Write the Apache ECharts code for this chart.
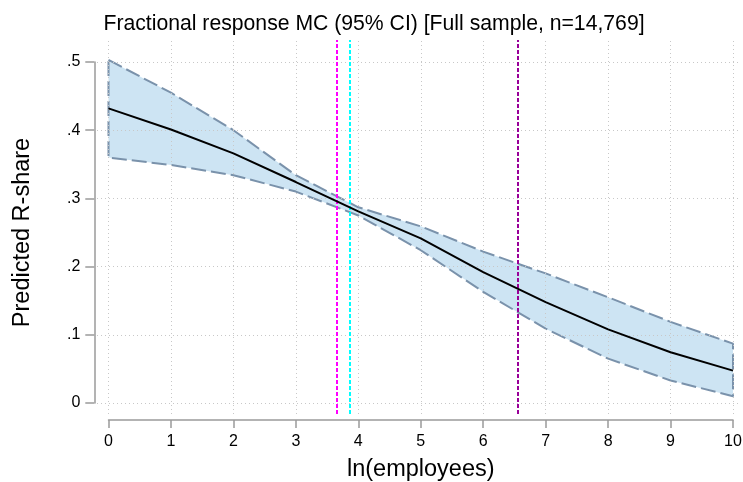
<!DOCTYPE html>
<html>
<head>
<meta charset="utf-8">
<script src="https://cdn.jsdelivr.net/npm/echarts@6/dist/echarts.min.js"></script>
<style>
html,body{margin:0;padding:0;background:#fff;}
#chart{width:743px;height:482px;}
</style>
</head>
<body>
<div id="chart"></div>
<script>
// ---- data ----
const xValues     = [0, 1, 2, 3, 4, 5, 6, 7, 8, 9, 10];
const meanValues  = [0.432, 0.401, 0.366, 0.324, 0.281, 0.2415, 0.192, 0.148, 0.108, 0.0745, 0.0475];
const upperValues = [0.503, 0.455, 0.400, 0.334, 0.287, 0.259, 0.222, 0.190, 0.155, 0.119, 0.087];
const lowerValues = [0.360, 0.349, 0.334, 0.310, 0.275, 0.224, 0.163, 0.109, 0.065, 0.033, 0.010];
const refLineX      = [3.65, 3.86, 6.56];
const refLineColors = ['#ff00ff', '#00ffff', '#990099'];
const xTicks = [0, 1, 2, 3, 4, 5, 6, 7, 8, 9, 10];
const yTicks = [0, 0.1, 0.2, 0.3, 0.4, 0.5];
const yTickLabels = ['0', '.1', '.2', '.3', '.4', '.5'];
const titleText = 'Fractional response MC (95% CI) [Full sample, n=14,769]';
const xTitle = 'ln(employees)';
const yTitle = 'Predicted R-share';

// ---- layout (pixels) ----
const dataLeft = 108.5, dataRight = 733, dataTop = 62, dataBottom = 403;   // data range 0..10 / 0..0.5
const plotLeft = 97, plotRight = 741, plotTop = 40, plotBottom = 414;       // plot region incl. margins
const xAxisLineY = 420, yAxisLineX = 94.3;
const xMin = 0, xMax = 10, yMin = 0, yMax = 0.5;
const pxX = (dataRight - dataLeft) / (xMax - xMin);
const pxY = (dataBottom - dataTop) / (yMax - yMin);
const exXMin = xMin - (dataLeft - plotLeft) / pxX;
const exXMax = xMax + (plotRight - dataRight) / pxX;
const exYMin = yMin - (plotBottom - dataBottom) / pxY;
const exYMax = yMax + (dataTop - plotTop) / pxY;

const FONT = 'Liberation Sans, Arial, sans-serif';
const bandFill = '#cde4f3';
const bandEdge = '#7a92ab';
const axisGrey = '#9a9a9a';

const pairs = (ys) => xValues.map((x, i) => [x, ys[i]]);
const outline = pairs(upperValues)
  .concat(xValues.slice().reverse().map((x, k) => [x, lowerValues[xValues.length - 1 - k]]))
  .concat([[xValues[0], upperValues[0]]]);
const bandData = xValues.map((x, i) => [x, lowerValues[i], upperValues[i]]);

const gridLines = [];
xTicks.forEach(v => gridLines.push({ xAxis: v }));
yTicks.forEach(v => gridLines.push({ yAxis: v }));

const refData = refLineX.map((v, i) => ({ xAxis: v, lineStyle: { color: refLineColors[i] } }));

const chart = echarts.init(document.getElementById('chart'), null, { renderer: 'canvas' });
chart.setOption({
  animation: false,
  backgroundColor: '#ffffff',
  title: {
    text: titleText,
    left: 369,
    top: 9,
    textAlign: 'center',
    textStyle: { fontFamily: FONT, fontSize: 21.2, fontWeight: 'normal', color: '#000' }
  },
  grid: [
    { left: dataLeft, top: dataTop, width: dataRight - dataLeft, height: dataBottom - dataTop, containLabel: false, outerBoundsMode: 'none' },
    { left: plotLeft, top: plotTop, width: plotRight - plotLeft, height: plotBottom - plotTop, containLabel: false, outerBoundsMode: 'none' }
  ],
  xAxis: [
    {
      type: 'value', gridIndex: 0, min: xMin, max: xMax, interval: 1,
      position: 'bottom', offset: xAxisLineY - dataBottom,
      name: xTitle, nameLocation: 'middle', nameGap: 38,
      nameTextStyle: { fontFamily: FONT, fontSize: 23.5, color: '#000' },
      axisLine: { show: true, onZero: false, lineStyle: { color: axisGrey, width: 1.5 } },
      axisTick: { show: true, length: 8, lineStyle: { color: axisGrey, width: 1.5 } },
      axisLabel: { fontFamily: FONT, fontSize: 16, color: '#000', margin: 14 },
      splitLine: { show: false }
    },
    {
      type: 'value', gridIndex: 1, min: exXMin, max: exXMax, show: false,
      splitLine: { show: false }
    }
  ],
  yAxis: [
    {
      type: 'value', gridIndex: 0, min: yMin, max: yMax, interval: 0.1,
      position: 'left', offset: dataLeft - yAxisLineX,
      name: yTitle, nameLocation: 'middle', nameGap: 60, nameRotate: 90,
      nameTextStyle: { fontFamily: FONT, fontSize: 23.5, color: '#000' },
      axisLine: { show: true, onZero: false, lineStyle: { color: axisGrey, width: 1.5 } },
      axisTick: { show: true, length: 9, lineStyle: { color: axisGrey, width: 1.5 } },
      axisLabel: {
        fontFamily: FONT, fontSize: 16, color: '#000', margin: 14,
        formatter: (v) => { const i = yTicks.findIndex(t => Math.abs(t - v) < 1e-9); return i >= 0 ? yTickLabels[i] : ''; }
      },
      splitLine: { show: false }
    },
    {
      type: 'value', gridIndex: 1, min: exYMin, max: exYMax, show: false,
      splitLine: { show: false }
    }
  ],
  series: [
    {
      name: 'grid', type: 'line', xAxisIndex: 1, yAxisIndex: 1, data: [], silent: true, z: 1,
      markLine: {
        silent: true, symbol: ['none', 'none'], label: { show: false },
        lineStyle: { color: '#c8c8c8', type: [1, 3], width: 1 },
        emphasis: { disabled: true },
        data: gridLines
      }
    },
    {
      name: 'band', type: 'custom', xAxisIndex: 1, yAxisIndex: 1, silent: true, z: 2,
      data: bandData,
      encode: { x: 0, y: [1, 2] },
      renderItem: function (params, api) {
        if (params.dataIndex !== 0) return null;
        const pts = [];
        for (let i = 0; i < bandData.length; i++) pts.push(api.coord([bandData[i][0], bandData[i][2]]));
        for (let i = bandData.length - 1; i >= 0; i--) pts.push(api.coord([bandData[i][0], bandData[i][1]]));
        return { type: 'polygon', shape: { points: pts }, style: { fill: bandFill, stroke: null } };
      }
    },
    {
      name: 'refs', type: 'line', xAxisIndex: 1, yAxisIndex: 1, data: [], silent: true, z: 3,
      markLine: {
        silent: true, symbol: ['none', 'none'], label: { show: false },
        lineStyle: { type: [4, 2], width: 2 },
        emphasis: { disabled: true },
        data: refData
      }
    },
    {
      name: 'outline', type: 'line', xAxisIndex: 1, yAxisIndex: 1,
      data: outline, symbol: 'none', silent: true, z: 4,
      lineStyle: { color: bandEdge, width: 2, type: [15, 5] }
    },
    {
      name: 'mean', type: 'line', xAxisIndex: 1, yAxisIndex: 1,
      data: pairs(meanValues), symbol: 'none', silent: true, z: 5,
      lineStyle: { color: '#000', width: 2 }
    }
  ]
});
</script>
</body>
</html>
